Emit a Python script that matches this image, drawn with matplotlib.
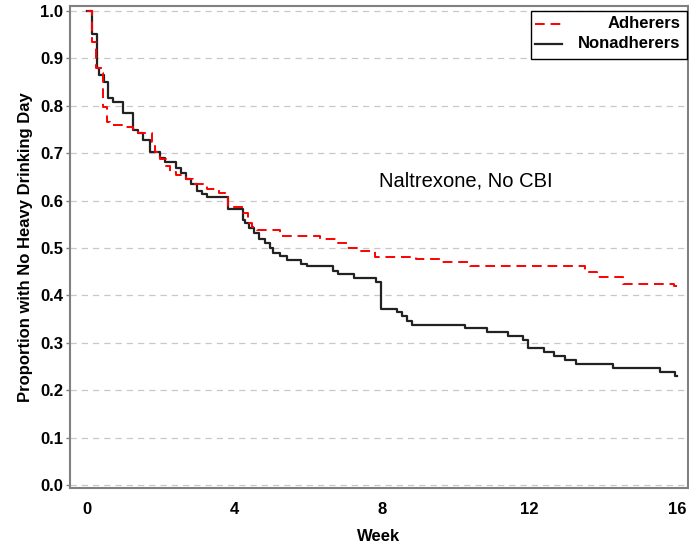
import numpy as np
import matplotlib
matplotlib.use('Agg')
import matplotlib.pyplot as plt
from matplotlib.patches import Rectangle
from matplotlib.lines import Line2D

# Kaplan-Meier step curves (week, proportion)
adh_weeks = [0, 0.13, 0.25, 0.40, 0.44, 0.53, 0.62, 0.98, 1.26, 1.39, 1.75, 1.84,
             1.98, 2.14, 2.25, 2.41, 2.68, 2.88, 3.24, 3.58, 3.83, 4.24, 4.37, 4.46,
             4.61, 5.23, 6.31, 6.81, 7.04, 7.31, 7.80, 8.93, 9.57, 10.38, 13.49,
             13.81, 14.53, 15.92, 16.0]
adh_prop = [1.0, 0.935, 0.879, 0.869, 0.798, 0.766, 0.759, 0.756, 0.752, 0.742,
            0.724, 0.703, 0.687, 0.672, 0.661, 0.654, 0.645, 0.636, 0.624, 0.615,
            0.586, 0.573, 0.552, 0.545, 0.539, 0.525, 0.520, 0.510, 0.499, 0.493,
            0.482, 0.476, 0.470, 0.463, 0.450, 0.438, 0.425, 0.420, 0.420]

non_weeks = [0, 0.13, 0.26, 0.33, 0.47, 0.58, 0.71, 0.97, 1.26, 1.39, 1.53, 1.71,
             1.98, 2.11, 2.41, 2.56, 2.68, 2.83, 2.99, 3.11, 3.26, 3.83, 4.24, 4.29,
             4.40, 4.53, 4.67, 4.82, 4.96, 5.05, 5.23, 5.41, 5.81, 5.97, 6.67, 6.81,
             7.24, 7.83, 7.98, 8.39, 8.53, 8.68, 8.82, 10.25, 10.83, 11.40, 11.82,
             11.96, 12.39, 12.66, 12.95, 13.25, 14.26, 15.53, 15.93, 16.0]
non_prop = [1.0, 0.951, 0.880, 0.866, 0.851, 0.816, 0.809, 0.785, 0.749, 0.742,
            0.728, 0.703, 0.689, 0.682, 0.668, 0.659, 0.645, 0.636, 0.621, 0.614,
            0.607, 0.582, 0.560, 0.552, 0.542, 0.531, 0.520, 0.510, 0.501, 0.490,
            0.483, 0.475, 0.466, 0.461, 0.452, 0.445, 0.436, 0.429, 0.372, 0.364,
            0.357, 0.347, 0.338, 0.331, 0.322, 0.314, 0.306, 0.289, 0.281, 0.272,
            0.264, 0.255, 0.247, 0.238, 0.230, 0.230]

x_ticks = [0, 4, 8, 12, 16]
y_ticks = [0.0, 0.1, 0.2, 0.3, 0.4, 0.5, 0.6, 0.7, 0.8, 0.9, 1.0]
legend_labels = ['Adherers', 'Nonadherers']

plt.rcParams['font.family'] = ['Liberation Sans', 'DejaVu Sans']

W, H = 689, 548
fig = plt.figure(figsize=(W / 100, H / 100), dpi=100)
ax = fig.add_axes([0.1016, 0.1095, 0.8970, 0.8795])

for y in y_ticks:
    ax.axhline(y, color='#c8c8c8', lw=0.9, ls=(0, (5, 4)), zorder=0)

red_style = dict(color='#ff0000', lw=1.4, ls=(0, (5, 3)))
blk_style = dict(color='#222222', lw=1.6, ls='-')
ax.step(adh_weeks, adh_prop, where='post', zorder=3, **red_style)
ax.step(non_weeks, non_prop, where='post', zorder=2, **blk_style)

ax.set_xlim(-0.46, 16.29)
ax.set_ylim(-0.0063, 1.0105)
ax.set_xticks(x_ticks)
ax.set_xticklabels([str(v) for v in x_ticks])
ax.set_yticks(y_ticks)
ax.set_yticklabels([f'{v:.1f}' for v in y_ticks])
ax.tick_params(axis='x', length=0, pad=10, labelsize=12)
ax.tick_params(axis='y', length=3, width=1, color='#808080', pad=2, labelsize=12)
for lab in ax.get_xticklabels() + ax.get_yticklabels():
    lab.set_fontweight('bold')

for s in ax.spines.values():
    s.set_color('#808080')
    s.set_linewidth(1.5)

ax.set_xlabel('Week', fontsize=12, fontweight='bold', labelpad=9)
ax.set_ylabel('Proportion with No Heavy Drinking Day', fontsize=12,
              fontweight='bold', labelpad=5)

ax.text(10.27, 0.641, 'Naltrexone, No CBI', fontsize=14.5, ha='center',
        va='center')

# legend box with right-aligned labels, built in figure pixel coordinates
def fx(px):
    return px / W

def fy(py):
    return 1 - py / H

fig.add_artist(Rectangle((fx(531), fy(59)), fx(687) - fx(531), fy(11) - fy(59),
                         transform=fig.transFigure, facecolor='white',
                         edgecolor='black', lw=1.0, zorder=5))
for label, style, py in zip(legend_labels, [red_style, blk_style], [24, 43.5]):
    fig.add_artist(Line2D([fx(535), fx(562)], [fy(py), fy(py)],
                          transform=fig.transFigure, zorder=6, **style))
    fig.text(fx(680), fy(py), label, fontsize=12, fontweight='bold',
             ha='right', va='center', zorder=6)

fig.savefig('out.png', dpi=100)
